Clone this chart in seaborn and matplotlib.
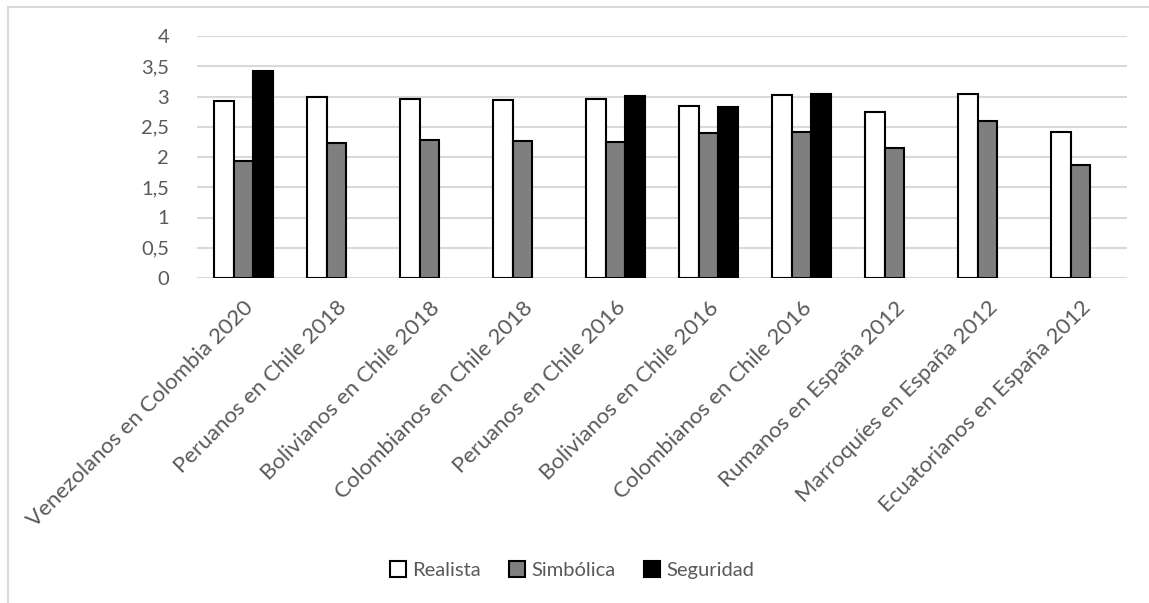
import seaborn as sns
import matplotlib.pyplot as plt
import pandas as pd
from matplotlib.patches import Patch
from matplotlib.lines import Line2D
from matplotlib.ticker import FuncFormatter

#data
categories = ["Venezolanos en Colombia 2020", "Peruanos en Chile 2018", "Bolivianos en Chile 2018",
              "Colombianos en Chile 2018", "Peruanos en Chile 2016", "Bolivianos en Chile 2016",
              "Colombianos en Chile 2016", "Rumanos en España 2012", "Marroquíes en España 2012",
              "Ecuatorianos en España 2012"]
realista = [2.93, 3.00, 2.96, 2.94, 2.96, 2.85, 3.03, 2.74, 3.04, 2.41]
simbolica = [1.94, 2.23, 2.28, 2.27, 2.25, 2.40, 2.42, 2.15, 2.60, 1.87]
seguridad = [3.42, None, None, None, 3.01, 2.82, 3.04, None, None, None]
series = ["Realista", "Simbólica", "Seguridad"]
colors = ["#ffffff", "#7f7f7f", "#000000"]

TEXT_COLOR = "#595959"
GRID_COLOR = "#d9d9d9"

rows = []
for name, values in zip(series, [realista, simbolica, seguridad]):
    for cat, v in zip(categories, values):
        rows.append({"cat": cat, "serie": name, "valor": v})
df = pd.DataFrame(rows).dropna()

sns.set_style("white")
plt.rcParams['font.family'] = ['Lato', 'DejaVu Sans']

fig = plt.figure(figsize=(11.49, 6.03), dpi=100)
ax = fig.add_axes([197/1149, 1 - 278/603, (1127 - 197)/1149, (278 - 36)/603])

sns.barplot(data=df, x="cat", y="valor", hue="serie", order=categories, hue_order=series,
            palette=colors, width=0.635, edgecolor="black", linewidth=1.5, saturation=1,
            ax=ax, legend=False)

ax.set_ylim(0, 4)
ax.set_xlim(-0.5, len(categories) - 0.5)
ax.set_yticks([i * 0.5 for i in range(9)])
ax.yaxis.set_major_formatter(FuncFormatter(lambda v, p: ("%g" % v).replace(".", ",")))
ax.grid(axis="y", color=GRID_COLOR, linewidth=1.5)
ax.set_axisbelow(True)
for s in ax.spines.values():
    s.set_visible(False)
ax.set_xlabel("")
ax.set_ylabel("")
ax.tick_params(axis="both", length=0, colors=TEXT_COLOR)
ax.tick_params(axis="y", pad=20, labelsize=14.5)
ax.tick_params(axis="x", pad=14, labelsize=16)
plt.setp(ax.get_xticklabels(), rotation=45, ha="right", rotation_mode="anchor")

# legend
handles = [Patch(facecolor=c, edgecolor="black", linewidth=1.5, label=n) for n, c in zip(series, colors)]
leg = fig.legend(handles=handles, loc="center", bbox_to_anchor=(572/1149, 1 - 570/603), ncol=3,
                 frameon=False, fontsize=14.5, handlelength=0.8, handleheight=0.8,
                 handletextpad=0.3, columnspacing=1.4)
for t in leg.get_texts():
    t.set_color(TEXT_COLOR)

# chart border
fig.add_artist(Line2D([8/1149, 8/1149], [0, 1 - 7/603], color=GRID_COLOR, linewidth=1.5))
fig.add_artist(Line2D([8/1149, 1], [1 - 7/603, 1 - 7/603], color=GRID_COLOR, linewidth=1.5))

fig.savefig("out.png", dpi=100)
